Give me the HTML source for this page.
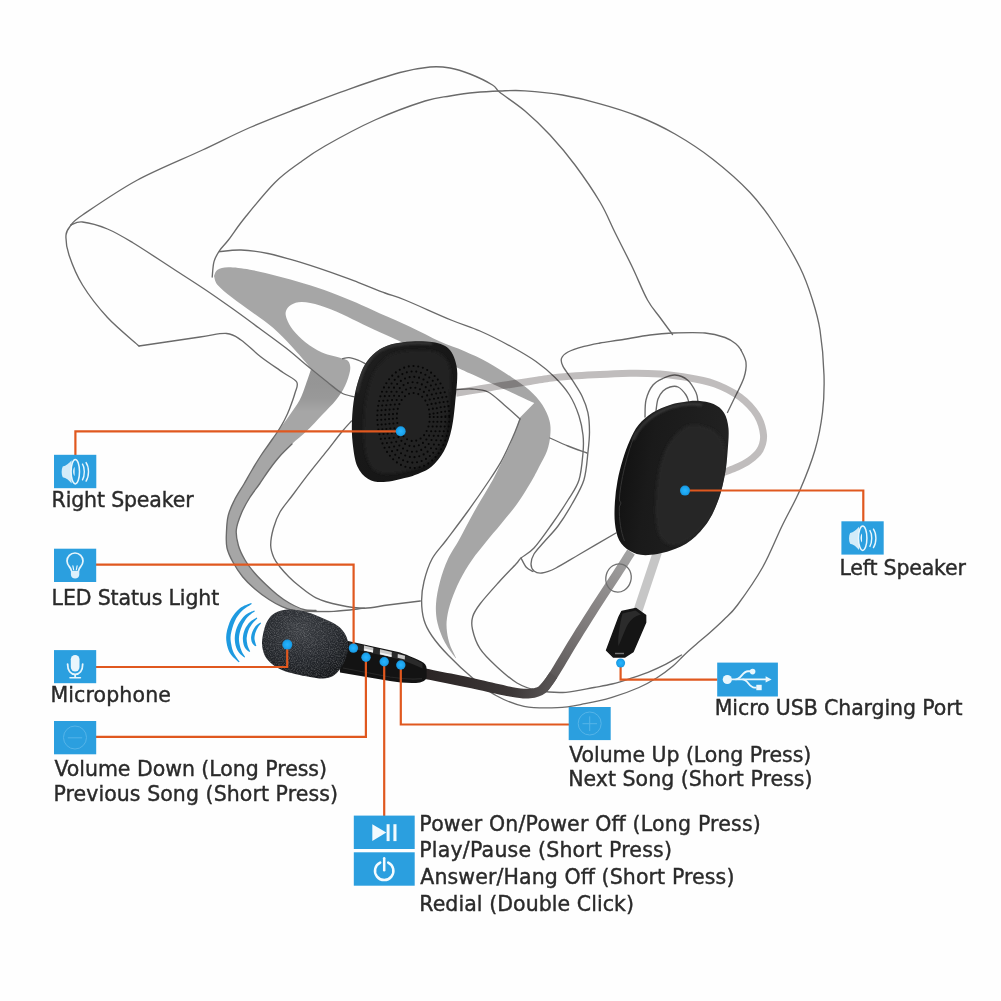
<!DOCTYPE html>
<html lang="en"><head><meta charset="utf-8"><title>Helmet Bluetooth Headset Diagram</title>
<style>html,body{margin:0;padding:0;background:#fff}body{width:1001px;height:1001px;overflow:hidden}svg{display:block}text{font-family:"DejaVu Sans","Liberation Sans",sans-serif;font-size:20.5px;fill:#2a2a2a;stroke:#2a2a2a;stroke-width:0.4px}</style>
</head><body>
<svg width="1001" height="1001" viewBox="0 0 1001 1001">
<defs>
<linearGradient id="boom" gradientUnits="userSpaceOnUse" x1="425" y1="675" x2="550" y2="690"><stop offset="0" stop-color="#2a2424"/><stop offset="0.7" stop-color="#3d3838"/><stop offset="1" stop-color="#575353"/></linearGradient>
<linearGradient id="boom2" gradientUnits="userSpaceOnUse" x1="548" y1="684" x2="632" y2="555"><stop offset="0" stop-color="#575353"/><stop offset="0.45" stop-color="#7f7b7b"/><stop offset="0.8" stop-color="#959393"/><stop offset="1" stop-color="#a2a2a2"/></linearGradient>
<radialGradient id="foam" cx="0.45" cy="0.3" r="0.75"><stop offset="0" stop-color="#3b3e43"/><stop offset="0.6" stop-color="#24272c"/><stop offset="1" stop-color="#15171a"/></radialGradient>
<linearGradient id="spkR" x1="0" y1="0" x2="1" y2="1"><stop offset="0" stop-color="#242424"/><stop offset="0.3" stop-color="#191919"/><stop offset="1" stop-color="#141414"/></linearGradient>
<linearGradient id="spkL" x1="0" y1="0.4" x2="1" y2="0.6"><stop offset="0" stop-color="#101010"/><stop offset="0.3" stop-color="#1a1a1a"/><stop offset="1" stop-color="#222"/></linearGradient>
<radialGradient id="dot" cx="0.5" cy="0.5" r="0.5"><stop offset="0" stop-color="#29b4ff"/><stop offset="0.7" stop-color="#1ba4ee"/><stop offset="1" stop-color="#1892da"/></radialGradient>
<filter id="grain" x="0" y="0" width="1" height="1"><feTurbulence type="fractalNoise" baseFrequency="0.85" numOctaves="2" seed="7" result="n"/><feColorMatrix in="n" type="matrix" values="0 0 0 0 1  0 0 0 0 1  0 0 0 0 1  0.5 0 0 0 -0.2" result="a"/><feComposite in="a" in2="SourceGraphic" operator="in"/></filter>
<linearGradient id="patch" gradientUnits="userSpaceOnUse" x1="0" y1="385" x2="0" y2="412"><stop offset="0" stop-color="#000" stop-opacity="0.10"/><stop offset="0.5" stop-color="#000" stop-opacity="0.08"/><stop offset="1" stop-color="#000" stop-opacity="0"/></linearGradient>
<filter id="soft" x="-0.2" y="-0.2" width="1.4" height="1.4"><feGaussianBlur stdDeviation="1.4"/></filter>
<filter id="soft2" x="-0.3" y="-0.3" width="1.6" height="1.6"><feGaussianBlur stdDeviation="0.9"/></filter>
</defs>
<rect width="1001" height="1001" fill="#fefefe"/>
<path id="shade" fill="#a6a6a6" d="M214 276C214.6 274.9 215.2 271.1 217.6 269.7C220 268.2 223 267.3 228.4 267.3C233.8 267.3 241.9 268.2 250 269.7C258.1 271.1 268 273.7 277 276C286 278.3 295 280.8 304 283.5C313 286.2 322.3 289.3 331 292.5C339.7 295.7 347.8 299 356 302.5C364.2 306 371 309.5 380 313.5C389 317.5 400 322 410 326.7C420 331.4 431 337.4 440 341.5C449 345.6 456 347.5 464 351C472 354.5 480 358 488 362.4C496 366.8 505.1 372.9 512 377.5C518.9 382.1 524.5 385.8 529.5 390.3C534.5 394.8 539 399.6 542.3 404.7C545.6 409.8 548.2 415.6 549.5 420.7C550.8 425.8 550.7 429.9 550.3 435C549.9 440.1 548.9 445.7 547 451C545.1 456.3 541.7 461.8 539 467C536.3 472.2 534.7 475.8 531 482C527.3 488.2 522 497 517 504C512 511 506.2 517.7 501 524C495.8 530.3 490.8 536 486 542C481.2 548 476.3 553.7 472 560C467.7 566.3 463.4 573.3 460 580C456.6 586.7 453.7 593.7 451.5 600C449.3 606.3 447.8 612.7 447 618C446.2 623.3 446.5 627.5 447 632C447.5 636.5 448.5 640.6 450 645C451.5 649.4 456.9 658.8 456 658.3C455.1 657.8 447.9 648.2 444.8 642.3C441.7 636.4 439 629.4 437.5 623C436 616.6 435.6 610.9 436 604C436.4 597.1 438 589 440 581.5C442 574 444.8 565.9 448 559C451.2 552.1 454.7 547.8 459 540C463.3 532.2 468.4 522 474 512C479.6 502 488.2 488 492.7 480C497.1 472 498 469.3 500.7 464C503.4 458.7 506.3 453.3 508.7 448C511.1 442.7 513.1 437.1 515 432C516.9 426.9 519.2 419.9 520 417.5L534.3 403C530.6 401.3 518.9 395.9 512 392.7C505.1 389.5 499.4 387.1 492.7 384C486 380.9 478.3 377.2 472 374.3C465.7 371.4 462 369.6 455 366.4C448 363.2 437.5 358.4 430 355C422.5 351.6 417.5 349.4 410 346C402.5 342.6 392.8 338.1 385 334.5C377.2 330.9 370.4 327.9 363.2 324.5C356 321.1 348.9 317.2 341.7 314C334.5 310.8 326.6 307.5 320 305.5C313.4 303.5 306.8 302.1 302 302C297.2 301.9 294 303.2 291.3 304.7C288.6 306.2 286.8 308.6 286 311C285.2 313.4 285.6 315.8 286.8 319C288 322.2 289.9 326.1 293 330C296.1 333.9 300.9 338.8 305.7 342.5C310.5 346.2 315.7 349.7 322 352.4C328.3 355.1 339 357 343.5 358.7C348 360.4 347.9 360.2 349 362.3C350.1 364.4 350.7 367.1 350 371C349.3 374.9 347.3 381.2 345 386C342.7 390.8 339.8 395.2 336 400C332.2 404.8 326.9 409.8 322 415C317.1 420.2 311.7 426.2 306.7 431C301.7 435.8 296.4 439.8 292 444C287.6 448.2 283.8 451.7 280 456C276.2 460.3 272.4 465.3 269 470C265.6 474.7 262.8 479.3 259.5 484C256.2 488.7 252.5 493.2 249.5 498C246.5 502.8 243.7 507.7 241.5 513C239.3 518.3 236.8 524.6 236.3 530C235.8 535.4 237 540.5 238.4 545.5C239.8 550.5 242.3 555.4 245 560C247.7 564.6 251.2 569 254.6 573C258 577 261.5 580.4 265.3 584C269.1 587.6 273.3 591.5 277.3 594.7C281.3 597.9 284.9 600.5 289.3 603C293.7 605.5 296.2 608.2 303.7 609.5C311.1 610.8 328.9 610.8 334 611L334 611.4C329.5 611.4 313.8 611.6 307 611.4C300.2 611.2 297.2 611.1 293 610.3C288.8 609.5 286 608.5 282 606.7C278 604.9 273.6 602.5 269 599.5C264.4 596.5 259 592.5 254.6 588.7C250.2 584.9 246.2 581.1 242.6 576.7C239 572.3 235.6 567.1 233 562.3C230.4 557.5 228.1 552.8 227 548C225.9 543.2 226.2 539 226.4 533.6C226.6 528.2 226.8 521.2 228.2 515.6C229.5 510 231.9 505.3 234.5 500C237.1 494.7 241.1 489 244 484C246.9 479 249.2 474.7 252 470C254.8 465.3 257.8 460.3 260.6 456C263.4 451.7 266.1 448.2 269 444C271.9 439.8 274.7 435.7 278 431C281.3 426.3 285.4 421.2 289 416C292.6 410.8 296.9 405.3 299.7 400C302.5 394.7 304.1 389.1 306 384C307.9 378.9 310.2 371.9 311 369.5C310.1 368.3 309 366.2 305.7 362.3C302.4 358.4 296.7 351.7 291.3 346C285.9 340.3 279.9 333.7 273.3 328C266.7 322.3 258.7 317.1 251.8 312C244.9 306.9 237.7 302 232 297.5C226.3 293 220.6 288.6 217.6 285C214.6 281.4 214.6 277.5 214 276Z"/>
<clipPath id="shadeclip"><path d="M214 276C214.6 274.9 215.2 271.1 217.6 269.7C220 268.2 223 267.3 228.4 267.3C233.8 267.3 241.9 268.2 250 269.7C258.1 271.1 268 273.7 277 276C286 278.3 295 280.8 304 283.5C313 286.2 322.3 289.3 331 292.5C339.7 295.7 347.8 299 356 302.5C364.2 306 371 309.5 380 313.5C389 317.5 400 322 410 326.7C420 331.4 431 337.4 440 341.5C449 345.6 456 347.5 464 351C472 354.5 480 358 488 362.4C496 366.8 505.1 372.9 512 377.5C518.9 382.1 524.5 385.8 529.5 390.3C534.5 394.8 539 399.6 542.3 404.7C545.6 409.8 548.2 415.6 549.5 420.7C550.8 425.8 550.7 429.9 550.3 435C549.9 440.1 548.9 445.7 547 451C545.1 456.3 541.7 461.8 539 467C536.3 472.2 534.7 475.8 531 482C527.3 488.2 522 497 517 504C512 511 506.2 517.7 501 524C495.8 530.3 490.8 536 486 542C481.2 548 476.3 553.7 472 560C467.7 566.3 463.4 573.3 460 580C456.6 586.7 453.7 593.7 451.5 600C449.3 606.3 447.8 612.7 447 618C446.2 623.3 446.5 627.5 447 632C447.5 636.5 448.5 640.6 450 645C451.5 649.4 456.9 658.8 456 658.3C455.1 657.8 447.9 648.2 444.8 642.3C441.7 636.4 439 629.4 437.5 623C436 616.6 435.6 610.9 436 604C436.4 597.1 438 589 440 581.5C442 574 444.8 565.9 448 559C451.2 552.1 454.7 547.8 459 540C463.3 532.2 468.4 522 474 512C479.6 502 488.2 488 492.7 480C497.1 472 498 469.3 500.7 464C503.4 458.7 506.3 453.3 508.7 448C511.1 442.7 513.1 437.1 515 432C516.9 426.9 519.2 419.9 520 417.5L534.3 403C530.6 401.3 518.9 395.9 512 392.7C505.1 389.5 499.4 387.1 492.7 384C486 380.9 478.3 377.2 472 374.3C465.7 371.4 462 369.6 455 366.4C448 363.2 437.5 358.4 430 355C422.5 351.6 417.5 349.4 410 346C402.5 342.6 392.8 338.1 385 334.5C377.2 330.9 370.4 327.9 363.2 324.5C356 321.1 348.9 317.2 341.7 314C334.5 310.8 326.6 307.5 320 305.5C313.4 303.5 306.8 302.1 302 302C297.2 301.9 294 303.2 291.3 304.7C288.6 306.2 286.8 308.6 286 311C285.2 313.4 285.6 315.8 286.8 319C288 322.2 289.9 326.1 293 330C296.1 333.9 300.9 338.8 305.7 342.5C310.5 346.2 315.7 349.7 322 352.4C328.3 355.1 339 357 343.5 358.7C348 360.4 347.9 360.2 349 362.3C350.1 364.4 350.7 367.1 350 371C349.3 374.9 347.3 381.2 345 386C342.7 390.8 339.8 395.2 336 400C332.2 404.8 326.9 409.8 322 415C317.1 420.2 311.7 426.2 306.7 431C301.7 435.8 296.4 439.8 292 444C287.6 448.2 283.8 451.7 280 456C276.2 460.3 272.4 465.3 269 470C265.6 474.7 262.8 479.3 259.5 484C256.2 488.7 252.5 493.2 249.5 498C246.5 502.8 243.7 507.7 241.5 513C239.3 518.3 236.8 524.6 236.3 530C235.8 535.4 237 540.5 238.4 545.5C239.8 550.5 242.3 555.4 245 560C247.7 564.6 251.2 569 254.6 573C258 577 261.5 580.4 265.3 584C269.1 587.6 273.3 591.5 277.3 594.7C281.3 597.9 284.9 600.5 289.3 603C293.7 605.5 296.2 608.2 303.7 609.5C311.1 610.8 328.9 610.8 334 611L334 611.4C329.5 611.4 313.8 611.6 307 611.4C300.2 611.2 297.2 611.1 293 610.3C288.8 609.5 286 608.5 282 606.7C278 604.9 273.6 602.5 269 599.5C264.4 596.5 259 592.5 254.6 588.7C250.2 584.9 246.2 581.1 242.6 576.7C239 572.3 235.6 567.1 233 562.3C230.4 557.5 228.1 552.8 227 548C225.9 543.2 226.2 539 226.4 533.6C226.6 528.2 226.8 521.2 228.2 515.6C229.5 510 231.9 505.3 234.5 500C237.1 494.7 241.1 489 244 484C246.9 479 249.2 474.7 252 470C254.8 465.3 257.8 460.3 260.6 456C263.4 451.7 266.1 448.2 269 444C271.9 439.8 274.7 435.7 278 431C281.3 426.3 285.4 421.2 289 416C292.6 410.8 296.9 405.3 299.7 400C302.5 394.7 304.1 389.1 306 384C307.9 378.9 310.2 371.9 311 369.5C310.1 368.3 309 366.2 305.7 362.3C302.4 358.4 296.7 351.7 291.3 346C285.9 340.3 279.9 333.7 273.3 328C266.7 322.3 258.7 317.1 251.8 312C244.9 306.9 237.7 302 232 297.5C226.3 293 220.6 288.6 217.6 285C214.6 281.4 214.6 277.5 214 276Z"/></clipPath>
<path clip-path="url(#shadeclip)" d="M306 366.3C320 377 330 385 340 392.3L352 380L340 412L290 412L304 380Z" fill="url(#patch)"/>
<g id="lines" fill="none" stroke="#6a6a6a" stroke-width="1.35" stroke-linecap="round" stroke-linejoin="round">
<path d="M71 225C72.9 223.3 71.4 222.5 82.5 215C93.6 207.5 117.5 190.8 137.5 180C157.5 169.2 183.8 158.8 202.5 150C221.2 141.2 233.8 134.6 250 127.5C266.2 120.4 283.3 114 300 107.5C316.7 101 333.3 94.6 350 88.8C366.7 82.9 386.7 76.1 400 72.5C413.3 68.9 421.7 67.8 430 67C438.3 66.2 443.3 66.8 450 68C456.7 69.2 462.9 71.2 470 74C477.1 76.8 487.5 81.9 492.5 85C497.5 88.1 494.6 88.2 500 92.5C505.4 96.8 516.7 103.9 525 111C533.3 118.1 541.7 126 550 135C558.3 144 566.7 153.8 575 165C583.3 176.2 593.3 190.8 600 202C606.7 213.2 609.6 221.6 615 232.5C620.4 243.4 627.1 256.2 632.5 267.5C637.9 278.8 642.9 291.7 647.5 300C652.1 308.3 655.8 311.8 660 317.5C664.2 323.2 670.4 331.7 672.5 334.5"/>
<path d="M71 225C70.2 226.7 66.3 230 66 235C65.7 240 66.2 246.7 69 255C71.8 263.3 76.1 274.6 82.5 285C88.9 295.4 98.1 307.3 107.5 317.5C116.9 327.7 133.8 341.2 139 346"/>
<path d="M139 346C149.2 344.5 185.4 339.1 200 337C214.6 334.9 219.8 333 226.6 333.5C233.4 334 235.3 336.1 241 340C246.7 343.9 254 351.6 261 357C268 362.4 277.1 368.3 283 372.5C288.9 376.7 294.7 378.6 296.7 382C298.7 385.4 296.2 388.5 295 393C293.8 397.5 291.2 404.5 289.5 409C287.8 413.5 286.4 416.3 284.5 420C282.6 423.7 280.6 427 278 431C275.4 435 271.9 439.8 269 444C266.1 448.2 263.4 451.7 260.6 456C257.8 460.3 254.8 465.3 252 470C249.2 474.7 246.9 479 244 484C241.1 489 237.1 494.7 234.5 500C231.9 505.3 229.5 510 228.2 515.6C226.8 521.2 226.6 528.2 226.4 533.6C226.2 539 225.9 543.2 227 548C228.1 552.8 230.4 557.5 233 562.3C235.6 567.1 239 572.3 242.6 576.7C246.2 581.1 250.2 584.9 254.6 588.7C259 592.5 264.4 596.5 269 599.5C273.6 602.5 278 604.9 282 606.7C286 608.5 288.8 609.5 293 610.3C297.2 611.1 300.2 611.2 307 611.4C313.8 611.6 324.4 611.9 334 611.4C343.6 610.9 359.4 608.7 364.5 608.2"/>
<path d="M316 610.5C313.9 610.3 308.1 610.8 303.7 609.5C299.2 608.2 293.7 605.5 289.3 603C284.9 600.5 281.3 597.9 277.3 594.7C273.3 591.5 269.1 587.6 265.3 584C261.5 580.4 258 577 254.6 573C251.2 569 247.7 564.6 245 560C242.3 555.4 239.8 550.5 238.4 545.5C237 540.5 235.8 535.4 236.3 530C236.8 524.6 239.3 518.3 241.5 513C243.7 507.7 246.5 502.8 249.5 498C252.5 493.2 256.2 488.7 259.5 484C262.8 479.3 265.6 474.7 269 470C272.4 465.3 276.2 460.3 280 456C283.8 451.7 290 446 292 444"/>
<path d="M71 225C72.9 224.5 76.4 221.3 82.5 222C88.6 222.7 99.2 225.6 107.5 229C115.8 232.4 121.2 235.7 132.5 242.5C143.8 249.3 162.9 262.2 175 270C187.1 277.8 195.5 283.1 205 289.5C214.5 295.9 223 301.9 232 308.3C241 314.7 250 321.4 259 328C268 334.6 277.9 341.7 286 348C294.1 354.3 300.6 360.3 307.5 366C314.4 371.7 321.6 377.5 327.3 382C333 386.5 337.2 390.5 341.7 393C346.2 395.5 352.2 396.2 354.3 396.8"/>
<path d="M212.2 277C212.5 274.4 212.8 266 214 261.6C215.2 257.2 217 254.4 219.4 250.8C221.8 247.2 224.1 245.6 228.4 240C232.7 234.4 237.2 227.1 245 217.5C252.8 207.9 265.8 191.7 275 182.5C284.2 173.3 291.7 168.6 300 162.5C308.3 156.4 312.5 153.1 325 146C337.5 138.9 358.3 127.5 375 120C391.7 112.5 412.5 105 425 101C437.5 97 441.7 97.4 450 96C458.3 94.6 466.7 93.3 475 92.5C483.3 91.7 491.7 91.3 500 91C508.3 90.7 514.6 90.1 525 90.8C535.4 91.4 550 92.8 562.5 95C575 97.2 587.5 100.2 600 103.8C612.5 107.2 625 111 637.5 116C650 121 662.5 126.8 675 134C687.5 141.2 700 149.2 712.5 159C725 168.8 739.6 181.5 750 192.5C760.4 203.5 766.7 212.5 775 225C783.3 237.5 793.8 255 800 267.5C806.2 280 809.2 289.6 812.5 300C815.8 310.4 818.1 317.5 820 330C821.9 342.5 823.6 361.2 824 375C824.4 388.8 824 400 822.5 412.5C821 425 818.8 437.1 815 450C811.2 462.9 805.4 477.5 800 490C794.6 502.5 788.8 512.1 782.5 525C776.2 537.9 770 554.2 762.5 567.5C755 580.8 743.9 596.3 737.5 605C731.1 613.7 728.6 614.9 724 619.5C719.4 624.1 714.7 628.3 710 632.5C705.3 636.7 700.3 640.7 696 644.5C691.7 648.3 687.8 651.6 684 655.2C680.2 658.8 677.5 662.2 673 666C668.5 669.8 662.7 674.1 657 677.7C651.3 681.3 646.5 684.2 639 687.5C631.5 690.8 621 694.7 612 697.4C603 700.1 594.1 702 585 703.7C575.9 705.4 567.7 707.3 557.5 707.7C547.3 708.1 534.2 708.3 524 706.3C513.8 704.3 504.7 700.3 496 695.5C487.3 690.7 480 684.2 472 677.5C464 670.8 454.7 661.9 448 655C441.3 648.1 436 641.8 432 636C428 630.2 425.7 625.9 424 620C422.3 614.1 421.6 606.9 421.6 600.5C421.6 594.1 422.3 588.4 424 581.5C425.7 574.6 428.3 565.9 432 559C435.7 552.1 440.4 548 446.4 540C452.4 532 460.8 521 468 511C475.2 501 484.1 488.1 489.5 480C494.9 471.9 497.5 467.9 500.7 462.3C503.9 456.7 506.3 451.4 508.7 446.3C511.1 441.2 513.1 436.6 515 432C516.9 427.4 519.2 421.2 520 419"/>
<path d="M520 419C517.3 416.6 509.3 409.2 504 404.7C498.7 400.2 493.3 394.6 488 392C482.7 389.4 477.2 389.4 472 389C466.8 388.6 459.3 389.4 456.8 389.5"/>
<path d="M219.4 251.7C223 251.4 232.9 249.7 241 250C249.1 250.3 259 251.7 268 253.5C277 255.3 284.5 257.6 295 260.7C305.5 263.8 320.5 268.8 331 272.4C341.5 276 349 278.9 358 282.3C367 285.7 377.2 290.1 385 293C392.8 295.9 394 295.5 405 300C416 304.5 438.5 314.8 451 320C463.5 325.2 469.8 326.5 480 331C490.2 335.5 502.7 341.9 512 347C521.3 352.1 528.8 356.4 536 361.5C543.2 366.6 549.4 371.9 555 377.5C560.6 383.1 565.5 388.6 569.5 395C573.5 401.4 576.8 409.3 579 416C581.2 422.7 582.3 428.9 583 435C583.7 441.1 583.7 445.2 583 452.7C582.3 460.2 581.5 472.1 579 480C576.5 487.9 572.5 492.7 568 500C563.5 507.3 557.7 516 552 524C546.3 532 539.2 542.3 534 548C528.8 553.7 524 555.3 521 558C518 560.7 519.7 560 516 564C512.3 568 505 575.3 499 582C493 588.7 484.4 598.2 480 604C475.6 609.8 473.9 612.5 472.7 616.7C471.4 621 471.3 624.2 472.5 629.5C473.7 634.8 476.1 642.6 480 648.7C483.9 654.8 489.8 660.3 496 666C502.2 671.7 510 678.9 517 683C524 687.1 529.8 689 538 690.5C546.2 692 556.7 692.8 566 692.3C575.3 691.8 586.3 688.9 594 687.5C601.7 686.1 606 685.5 612 684C618 682.5 624 680.6 630 678.6C636 676.6 642 674.7 648 672.3C654 669.9 660.4 667.1 666 664.2C671.6 661.3 678.9 656.5 681.5 655"/>
<path d="M741 350C740.2 349 738.7 346.1 736 344C733.3 341.9 730.2 339.3 725 337.5C719.8 335.7 713.8 333.8 705 333C696.2 332.2 681.7 332.7 672.5 333C663.3 333.3 658.8 333.8 650 335C641.2 336.2 628.3 338.7 620 340C611.7 341.3 606 341.9 600 343C594 344.1 589.3 344.9 584 346.4C578.7 347.9 571.8 350 568 352C564.2 354 562.3 356 561.5 358.4C560.7 360.8 561.1 362.7 563 366.4C564.9 370.1 569.5 375.6 572.7 380.7C575.9 385.8 579.8 391.4 582.3 396.7C584.8 402 586.7 406.8 587.9 412.7C589.1 418.6 589.5 425.3 589.5 432C589.5 438.7 588.8 444.7 587.9 452.7C587 460.7 586.5 471.4 583.9 480C581.2 488.6 576.3 496.3 572 504C567.7 511.7 562.7 519.7 558 526C553.3 532.3 548 537.3 544 542C540 546.7 536.2 550.3 534 554C531.8 557.7 531 561.2 531 564C531 566.8 532.2 569.5 534 571C535.8 572.5 538.3 573.5 542 573C545.7 572.5 549.7 571.2 556 568C562.3 564.8 570 559.8 580 554C590 548.2 610 536.5 616 533"/>
<path d="M741 350C741.8 352.1 745.5 357.9 746 362.5C746.5 367.1 745.7 372.1 744 377.5C742.3 382.9 738.8 389.2 736 395C733.2 400.8 728.9 409.6 727.5 412.5"/>
<path d="M521 558C521.9 559.5 524.3 565 526.3 567.2C528.3 569.5 531.9 570.8 533 571.5"/>
<path d="M550 438C553 439.3 561.8 443.5 568 446C574.2 448.5 583.8 451.8 587 453"/>
<path d="M351.5 421C349.9 422.8 345.9 426.9 341.7 432C337.5 437.1 331.7 444.9 326.3 451.7C320.9 458.5 315.1 465.5 309.5 472.7C303.9 479.9 297.6 488.4 292.7 495C287.8 501.6 283.2 506.5 280 512C276.8 517.5 275.1 522.4 273.5 528C271.9 533.6 270.6 540.5 270.7 545.5C270.8 550.5 272.4 554.4 274 558C275.6 561.6 277.5 563.8 280 567C282.5 570.2 286 574 289 577C292 580 293.5 581.5 298 585C302.5 588.5 309.1 594.5 316 597.8C322.9 601.1 331.2 603.3 339.3 605C347.4 606.7 356.4 608.2 364.5 608.2C372.6 608.2 378.7 606.2 388 605C397.3 603.8 414.9 601.7 420.3 601"/>
<path d="M342.6 358.7C343.7 358.5 346.4 357.4 349 357.6C351.6 357.9 355.3 359.2 358 360.2C360.7 361.2 364.2 363.2 365.4 363.8"/>
<path d="M645 417C645.2 414.2 644.7 405.3 646 400C647.3 394.7 650 388.7 653 385C656 381.3 660.3 379.7 664 378C667.7 376.3 671.1 374.7 675 375C678.9 375.3 684 377.1 687.5 380C691 382.9 694.2 388.8 696 392.5C697.8 396.2 697.7 400.8 698 402.5"/>
<path d="M656 411C656.3 409 656.8 402.3 658 399C659.2 395.7 661 393 663 391C665 389 667.5 387.7 670 387C672.5 386.3 675.3 385.7 678 387C680.7 388.3 684.2 392.4 686 395C687.8 397.6 688.5 401.2 689 402.5"/>
</g>
<path d="M456.6 396.7C462.3 395.7 478.3 393.1 490.6 391.2C502.9 389.2 520.2 386.5 530.6 384.9C540.9 383.3 544.8 382.5 552.4 381.6C560 380.6 568.3 379.9 576.3 379.3C584.2 378.7 591.2 378.4 600.2 378C609.1 377.6 620.1 376.8 630 376.7C640 376.6 649.8 376.7 659.7 377.5C669.6 378.3 680.4 379.8 689.4 381.4C698.4 383.1 705.7 384.2 713.8 387.3C721.8 390.3 731.2 394.9 737.9 399.8C744.6 404.7 750.3 410.9 754 416.8C757.7 422.8 759.5 430 760 435.3C760.5 440.5 758.9 444.7 756.9 448.3C754.9 452 751.4 454.6 747.9 457.2C744.4 459.8 740.6 461.7 736 463.8C731.5 465.9 723.3 468.8 720.7 469.7L723.3 476.3C725.9 475.2 734.2 472.4 739 470.2C743.8 467.9 748.1 465.9 752.1 462.8C756.1 459.7 760.6 456.3 763.1 451.7C765.6 447 767.5 441.1 767 434.7C766.5 428.3 764.1 419.9 760 413.2C755.8 406.4 749.4 399.6 742.1 394.2C734.8 388.8 724.8 384 716.2 380.7C707.7 377.5 700 376.3 690.6 374.6C681.3 372.9 670.4 371.3 660.3 370.5C650.2 369.7 640 369.6 630 369.7C619.9 369.8 608.9 370.6 599.8 371C590.8 371.4 583.8 371.7 575.7 372.3C567.7 372.8 559.3 373.5 551.6 374.4C543.9 375.3 539.8 376.1 529.4 377.7C519.1 379.3 501.8 381.9 489.4 383.8C477.1 385.8 461.1 388.4 455.4 389.3Z" fill="#1a1010" fill-opacity="0.27"/>
<path d="M546.8 691.9C548.6 689.5 552.2 685.6 557.4 677.5C562.6 669.5 570.5 655.4 577.9 643.4C585.3 631.4 594.6 616.6 601.8 605.4C608.9 594.3 615.3 584.9 620.8 576.4C626.3 567.9 632.5 558.1 634.8 554.4L627.2 549.6C624.9 553.2 618.7 563.1 613.2 571.6C607.7 580.1 601.4 589.4 594.2 600.6C587 611.7 577.5 626.6 570.1 638.6C562.7 650.6 554.7 664.5 549.6 672.5C544.4 680.4 540.9 683.9 539.2 686.1Z" fill="url(#boom2)"/>
<path d="M423 678.6C427.3 679.5 439.6 682 448.9 683.8C458.3 685.7 468.6 687.7 479 689.9C489.3 692.1 502.6 695.4 511.2 696.8C519.8 698.2 524.7 699 530.5 698.3C536.3 697.6 541.5 696.1 545.9 692.7C550.4 689.3 555.3 680.3 557.2 677.8L549.8 672.2C548.2 674.4 543.4 682.5 540.1 685.3C536.7 688 534.1 688.4 529.5 688.7C525 689 520.9 688.6 512.8 687.2C504.7 685.7 491.3 682.4 481 680.1C470.8 677.8 460.4 675.5 451.1 673.6C441.7 671.6 429.4 669.2 425 668.4Z" fill="url(#boom)"/>
<ellipse cx="618.5" cy="578" rx="12.6" ry="14.3" transform="rotate(16 618.5 578)" fill="none" stroke="#707070" stroke-width="1.3"/>
<path d="M657.5 552L637.5 612" fill="none" stroke="#c6c6c6" stroke-width="9"/>
<clipPath id="clipR"><path d="M391.5 344.3C397.5 342.6 405.3 341.9 412 341.5C418.7 341.1 426.5 341.4 431.7 342C436.9 342.6 439.9 343.6 443 345C446.1 346.4 448.3 348 450.3 350.5C452.3 353 453.8 356.1 455 360C456.2 363.9 457.2 367.5 457.3 373.7C457.4 379.9 456.6 387.9 455.7 397C454.8 406.1 453.8 419 451.8 428C449.9 437 447.4 444.6 444 451C440.6 457.4 435.7 462.9 431.7 466.6C427.7 470.3 424.1 471.2 420 473C415.9 474.8 413.1 476 407 477.5C400.9 479 390.2 481.8 383.7 482C377.2 482.2 372.6 481.6 368.2 479C363.8 476.4 360 472.5 357.4 466.6C354.8 460.7 353.6 451.2 352.7 443.4C351.8 435.6 351.7 427.7 352 420C352.3 412.3 353.1 403.9 354.3 397C355.5 390.1 357.2 383.8 359 378.4C360.8 373 362.2 368.8 365 364.4C367.8 360 371.6 355.4 376 352C380.4 348.6 385.5 346.1 391.5 344.3Z"/></clipPath>
<path d="M391.5 344.3C397.5 342.6 405.3 341.9 412 341.5C418.7 341.1 426.5 341.4 431.7 342C436.9 342.6 439.9 343.6 443 345C446.1 346.4 448.3 348 450.3 350.5C452.3 353 453.8 356.1 455 360C456.2 363.9 457.2 367.5 457.3 373.7C457.4 379.9 456.6 387.9 455.7 397C454.8 406.1 453.8 419 451.8 428C449.9 437 447.4 444.6 444 451C440.6 457.4 435.7 462.9 431.7 466.6C427.7 470.3 424.1 471.2 420 473C415.9 474.8 413.1 476 407 477.5C400.9 479 390.2 481.8 383.7 482C377.2 482.2 372.6 481.6 368.2 479C363.8 476.4 360 472.5 357.4 466.6C354.8 460.7 353.6 451.2 352.7 443.4C351.8 435.6 351.7 427.7 352 420C352.3 412.3 353.1 403.9 354.3 397C355.5 390.1 357.2 383.8 359 378.4C360.8 373 362.2 368.8 365 364.4C367.8 360 371.6 355.4 376 352C380.4 348.6 385.5 346.1 391.5 344.3Z" fill="url(#spkR)"/>
<g clip-path="url(#clipR)"><path d="M400 352C407.2 350.6 420.7 349.7 428 350.5C435.3 351.3 440.2 353.4 444 357C447.8 360.6 449.6 365.2 450.5 372C451.4 378.8 450.2 388.7 449.5 398C448.8 407.3 447.8 419.3 446 428C444.2 436.7 441.8 444 438.5 450C435.2 456 431.8 460.4 426 464C420.2 467.6 411 469.9 404 471.5C397 473.1 389.4 474.2 384 473.5C378.6 472.8 374.7 471.2 371.5 467C368.3 462.8 366.2 455.8 365 448C363.8 440.2 363.7 428.8 364 420C364.3 411.2 365.3 402.8 367 395C368.7 387.2 371 379 374 373C377 367 380.7 362.5 385 359C389.3 355.5 392.8 353.4 400 352Z" fill="#212121" filter="url(#soft)"/>
<path d="M357 392C360 374 368 358 380 350C392 344 412 342 432 343.5" fill="none" stroke="#383838" stroke-width="2.6" filter="url(#soft2)"/></g>
<g fill="none" stroke="#060606" stroke-width="2.1" stroke-linecap="round">
<ellipse cx="413.3" cy="417" rx="16.5" ry="24" stroke-dasharray="0 4.8"/>
<ellipse cx="413.3" cy="417" rx="20.4" ry="29.4" stroke-dasharray="0 4.8"/>
<ellipse cx="413.3" cy="417" rx="24.3" ry="34.8" stroke-dasharray="0 4.8"/>
<ellipse cx="413.3" cy="417" rx="28.2" ry="40.2" stroke-dasharray="0 4.8"/>
<ellipse cx="413.3" cy="417" rx="32.1" ry="45.6" stroke-dasharray="0 4.8"/>
<ellipse cx="413.3" cy="417" rx="36" ry="51" stroke-dasharray="0 4.8"/>
</g>
<clipPath id="clipL"><path d="M697.9 400.8C702.8 401.2 709.2 402 713.6 404C718 406 721.5 408.6 724 412.7C726.5 416.8 727.9 422.1 728.5 428.5C729.1 434.9 728.2 443.6 727.6 451.2C727 458.8 726.5 466.1 725 474C723.5 481.9 721.7 490.6 718.9 498.4C716.1 506.2 713 514 708.4 521C703.8 528 697.4 535.3 691 540.3C684.6 545.3 677.6 548.3 670 550.8C662.4 553.3 652.2 555.2 645.5 555.2C638.8 555.2 634.1 553.3 629.7 550.8C625.3 548.3 621.7 544.9 619.2 540.3C616.7 535.6 615.6 529.3 614.9 522.9C614.2 516.5 614.5 508.9 614.9 501.9C615.3 494.9 616.2 487.9 617.5 480.9C618.8 473.9 620.7 466.7 622.7 460C624.7 453.3 627.1 446.5 629.7 440.7C632.3 434.9 634.7 429.7 638.5 425C642.3 420.3 647.1 416.1 652.4 412.7C657.6 409.3 664.7 406.7 670 404.9C675.3 403.1 679.4 402.6 684 401.9C688.6 401.2 693 400.4 697.9 400.8Z"/></clipPath>
<path d="M697.9 400.8C702.8 401.2 709.2 402 713.6 404C718 406 721.5 408.6 724 412.7C726.5 416.8 727.9 422.1 728.5 428.5C729.1 434.9 728.2 443.6 727.6 451.2C727 458.8 726.5 466.1 725 474C723.5 481.9 721.7 490.6 718.9 498.4C716.1 506.2 713 514 708.4 521C703.8 528 697.4 535.3 691 540.3C684.6 545.3 677.6 548.3 670 550.8C662.4 553.3 652.2 555.2 645.5 555.2C638.8 555.2 634.1 553.3 629.7 550.8C625.3 548.3 621.7 544.9 619.2 540.3C616.7 535.6 615.6 529.3 614.9 522.9C614.2 516.5 614.5 508.9 614.9 501.9C615.3 494.9 616.2 487.9 617.5 480.9C618.8 473.9 620.7 466.7 622.7 460C624.7 453.3 627.1 446.5 629.7 440.7C632.3 434.9 634.7 429.7 638.5 425C642.3 420.3 647.1 416.1 652.4 412.7C657.6 409.3 664.7 406.7 670 404.9C675.3 403.1 679.4 402.6 684 401.9C688.6 401.2 693 400.4 697.9 400.8Z" fill="url(#spkL)"/>
<g clip-path="url(#clipL)"><path d="M691 425C697.1 424.4 707.9 426.4 713.6 430.2C719.3 434 723.1 440.4 725 447.7C726.9 455 726 465.6 725 474C724 482.4 721.7 490.6 718.9 498.4C716.1 506.2 713 514.3 708.4 521C703.8 527.7 696.8 534.5 691 538.6C685.2 542.7 678.4 545.6 673.4 545.6C668.4 545.6 664.1 542.7 661.2 538.6C658.3 534.5 656.9 528.3 656 521C655.1 513.7 655.4 503.7 656 495C656.6 486.3 657.7 476.6 659.4 468.7C661.1 460.8 663.5 453.5 666.4 447.7C669.3 441.9 672.9 437.5 677 433.7C681.1 429.9 684.9 425.6 691 425Z" fill="#272727" filter="url(#soft)"/>
<path d="M633 440C640 424 655 412 672 407C682 404 692 403 702 405" fill="none" stroke="#3a3a3a" stroke-width="2.6" filter="url(#soft2)"/>
<path d="M636 432C627 452 620 484 619.3 500L621 503L619.3 507C619 520 621 532 624.5 541" fill="none" stroke="#343434" stroke-width="1"/></g>
<path d="M621.8 611.5L636 608.5L645.6 615.4L645.6 622.4L633 651.7L624.6 657L613.4 657L606.6 650.3L619 617Z" fill="#151515" stroke="#151515" stroke-width="1.5" stroke-linejoin="round"/>
<path d="M622.5 613.5L635.5 610.5L641 614.5C634 616 629 621 626 628L618.5 646C617.5 640 619 628 622.5 613.5Z" fill="#2b2b2b"/>
<path d="M615 653.5L624 653.5" stroke="#777" stroke-width="1.4" fill="none"/>
<path d="M338 638.5L348 641L397 651.8C405 653.8 415 658.3 421 661.3C425 663.3 426.6 665.6 426.6 668.6L426.6 676.5C426.6 679.5 424 681.6 420 682.4C412 683.6 400 682.6 390 681L340 672.5Z" fill="#131313"/>
<path d="M349 642.2L397 652.8C405 654.8 415 659.5 422.5 663.5L422.5 668.5C414 664.5 404 660.6 396 658.6L349 648Z" fill="#2a2a2a"/>
<path d="M343 668L390 677C400 678.6 412 679.6 422 678.6" fill="none" stroke="#272727" stroke-width="1.2"/>
<g fill="#c9c9c9"><path d="M364 645.6L373.4 647.8L373 652.6L363.8 650.4Z"/><path d="M380 649.3L391.8 652L391.5 657L379.8 654.3Z"/><path d="M397.8 654L405 655.8L404.8 659.4L397.6 657.8Z"/></g>
<g fill="#f4f4f4"><path d="M364.5 648.6L373 650.6L373 652.6L364 650.4Z"/><path d="M380.4 652.4L391.4 655L391.5 657L380 654.3Z"/></g>
<path d="M275 613C278.2 611.2 282.3 609.8 287 609.5C291.7 609.2 297.5 609.8 303 611C308.5 612.2 314.7 614.8 320 617C325.3 619.2 331.2 621.7 335 624C338.8 626.3 340.9 628.3 343 631C345.1 633.7 346.7 636.8 347.5 640C348.3 643.2 348.4 646.7 348 650C347.6 653.3 346.3 656.8 345 660C343.7 663.2 342 666.3 340 669C338 671.7 335.8 674.4 333 676C330.2 677.6 326.8 678.3 323 678.5C319.2 678.7 314.7 677.8 310 677C305.3 676.2 299.7 675.2 295 674C290.3 672.8 285.8 671.7 282 670C278.2 668.3 274.8 666.3 272 664C269.2 661.7 266.7 659.3 265 656C263.3 652.7 262.2 648.3 262 644C261.8 639.7 263 634 264 630C265 626 266.2 622.8 268 620C269.8 617.2 271.8 614.8 275 613Z" fill="url(#foam)"/>
<path d="M275 613C278.2 611.2 282.3 609.8 287 609.5C291.7 609.2 297.5 609.8 303 611C308.5 612.2 314.7 614.8 320 617C325.3 619.2 331.2 621.7 335 624C338.8 626.3 340.9 628.3 343 631C345.1 633.7 346.7 636.8 347.5 640C348.3 643.2 348.4 646.7 348 650C347.6 653.3 346.3 656.8 345 660C343.7 663.2 342 666.3 340 669C338 671.7 335.8 674.4 333 676C330.2 677.6 326.8 678.3 323 678.5C319.2 678.7 314.7 677.8 310 677C305.3 676.2 299.7 675.2 295 674C290.3 672.8 285.8 671.7 282 670C278.2 668.3 274.8 666.3 272 664C269.2 661.7 266.7 659.3 265 656C263.3 652.7 262.2 648.3 262 644C261.8 639.7 263 634 264 630C265 626 266.2 622.8 268 620C269.8 617.2 271.8 614.8 275 613Z" fill="#fff" filter="url(#grain)"/>
<g fill="#1e9ae0">
<path d="M251.3 603.1C249.4 603.9 243.3 605.7 239.9 608.3C236.6 611 233.4 614.8 231.1 619.1C228.9 623.3 227.1 629.6 226.4 634C225.8 638.4 226.4 641.9 227.1 645.4C227.9 648.9 229.2 652 231.1 654.8C233.1 657.6 237.5 661.1 238.8 662.3L239.6 661.7C238.6 660.3 235.3 656 233.9 653.2C232.5 650.3 231.8 647.7 231.3 644.6C230.7 641.5 230.2 638.6 230.8 634.6C231.4 630.7 233 624.9 234.9 620.9C236.7 616.9 239.2 613.5 242.1 610.7C244.9 607.8 250.1 605.1 251.7 603.9Z"/>
<path d="M254.3 610.4C252.8 611.1 248.1 612.6 245.4 614.9C242.7 617.3 239.9 621.2 238.2 624.6C236.4 628.1 235.3 632.3 234.9 635.7C234.5 639.2 235 642.6 235.6 645.4C236.3 648.3 237.6 650.8 239.1 652.8C240.6 654.8 243.5 656.7 244.4 657.5L245.2 656.9C244.6 655.9 242.6 653.3 241.7 651.2C240.8 649.2 240 647.1 239.6 644.6C239.1 642.1 238.7 639.3 239.1 636.3C239.5 633.2 240.4 629.6 241.8 626.4C243.2 623.2 245.4 619.6 247.6 617.1C249.8 614.5 253.7 612.2 254.9 611.2Z"/>
<path d="M256.7 617.6C255.6 618.4 251.9 620.2 250 622.1C248 624 246.1 626.8 244.9 629.3C243.8 631.8 243.1 634.8 242.9 637.3C242.7 639.9 243.1 642.4 243.6 644.4C244.2 646.4 245.1 647.9 246 649.2C247 650.4 248.9 651.5 249.4 651.9L250.2 651.3C249.9 650.7 248.9 649.1 248.4 647.8C247.9 646.5 247.4 645.3 247.2 643.6C246.9 641.9 246.5 639.8 246.7 637.7C246.9 635.5 247.4 633 248.3 630.7C249.1 628.4 250.5 626 252 623.9C253.5 621.8 256.4 619.3 257.3 618.4Z"/>
<path d="M260.5 622.4C259.7 623 257.3 624.3 256 625.8C254.7 627.3 253.3 629.5 252.5 631.4C251.7 633.4 251.2 635.7 251.1 637.3C251 639 251.3 640.2 251.6 641.4C252 642.6 252.7 643.6 253.3 644.4C254 645.2 255.2 646 255.6 646.3L256.4 645.7C256.2 645.3 255.7 644.1 255.5 643.2C255.2 642.4 254.9 641.5 254.8 640.6C254.6 639.7 254.4 639 254.5 637.7C254.6 636.3 254.9 634.3 255.5 632.6C256.1 630.8 257 628.8 258 627.2C258.9 625.7 260.6 623.8 261.1 623.2Z"/>
</g>
<g id="leaders" fill="none" stroke="#e0581f" stroke-width="2.2" stroke-linejoin="miter">
<path d="M75.4 455V431.3H400"/>
<path d="M96 564.6H353.6V648"/>
<path d="M96 667H287.2V645"/>
<path d="M96 736.8H365.9V657.5"/>
<path d="M384.2 661.8V816"/>
<path d="M400.8 665V724.5H569"/>
<path d="M620.6 663V679.6H717.5"/>
<path d="M685 490.5H863.3V522"/>
</g>
<g id="dots" fill="url(#dot)">
<circle cx="400.7" cy="431.2" r="5"/>
<circle cx="685" cy="490.6" r="5"/>
<circle cx="287.3" cy="644.6" r="5"/>
<circle cx="353.4" cy="648.1" r="4.7"/>
<circle cx="366" cy="657.3" r="4.7"/>
<circle cx="384.2" cy="661.8" r="4.7"/>
<circle cx="400.8" cy="665" r="4.7"/>
<circle cx="620.6" cy="663" r="4.5"/>
</g>
<g id="icons">
<rect x="54" y="454.8" width="42.3" height="33.4" fill="#2b9fdf"/>
<g transform="translate(54 454.8)" fill="none" stroke="#eaf7fd" stroke-width="1.1">
<path d="M8.7 11.6C12 11.2 15 8.4 17.6 5.4V28.6C15 25.6 12 22.8 8.7 22.4C7.3 19.5 7.3 14.5 8.7 11.6Z" fill="#eaf7fd" fill-opacity="0.88" stroke="none"/>
<ellipse cx="21.3" cy="16.9" rx="4.2" ry="12.2" fill="#2b9fdf" stroke-width="1.5"/>
<path d="M20.6 12.2C18.6 14 18.6 19.4 20.6 21.2Z" fill="#eaf7fd" stroke="none"/>
<path d="M28.3 8.8C31 12.8 31 21.3 28.3 25.5" stroke-width="1.4"/>
<path d="M31.8 7.3C35.4 12.3 35.4 21.8 31.8 26.8" stroke-width="1.4"/>
</g>
<rect x="841.4" y="521.3" width="42.3" height="33.3" fill="#2b9fdf"/>
<g transform="translate(841.4 521.3)" fill="none" stroke="#eaf7fd" stroke-width="1.1">
<path d="M8.7 11.6C12 11.2 15 8.4 17.6 5.4V28.6C15 25.6 12 22.8 8.7 22.4C7.3 19.5 7.3 14.5 8.7 11.6Z" fill="#eaf7fd" fill-opacity="0.88" stroke="none"/>
<ellipse cx="21.3" cy="16.9" rx="4.2" ry="12.2" fill="#2b9fdf" stroke-width="1.5"/>
<path d="M20.6 12.2C18.6 14 18.6 19.4 20.6 21.2Z" fill="#eaf7fd" stroke="none"/>
<path d="M28.3 8.8C31 12.8 31 21.3 28.3 25.5" stroke-width="1.4"/>
<path d="M31.8 7.3C35.4 12.3 35.4 21.8 31.8 26.8" stroke-width="1.4"/>
</g>
<rect x="54" y="548.7" width="42.2" height="33.3" fill="#2b9fdf"/>
<g transform="translate(54 548.7)" fill="none" stroke="#e6f5fc" stroke-width="1.7" stroke-linecap="round" stroke-linejoin="round"><path d="M17.3 21.6C17 18.6 13 17 13 12.3A8 8 0 0 1 29 12.3C29 17 25 18.6 24.7 21.6"/><path d="M18.9 17.2L19.6 21M23.1 17.2L22.4 21" stroke-width="1.2"/><path d="M16.9 22H25.3V26C25.3 28.3 23.4 29.8 21.1 29.8C18.8 29.8 16.9 28.3 16.9 26Z" fill="#dcf1fb" stroke="none"/></g>
<rect x="54" y="650.1" width="42.2" height="33.1" fill="#2b9fdf"/>
<g transform="translate(54 650.1)" fill="none" stroke="#e6f5fc" stroke-width="1.8" stroke-linecap="round"><rect x="16.8" y="4.8" width="8.7" height="16.5" rx="4.35" fill="#e9f6fc" stroke="none"/><path d="M13.6 14C13.6 20.5 16.8 24.2 21.15 24.2C25.5 24.2 28.7 20.5 28.7 14"/><path d="M21.15 24.4V27.2" stroke-linecap="butt"/><path d="M16 27.7H26.4" stroke-width="1.6"/></g>
<rect x="54" y="721" width="42.2" height="33.3" fill="#2b9fdf"/>
<g fill="none" stroke="#55b4e8" stroke-width="1"><circle cx="75" cy="737.5" r="11.5"/><path d="M67.8 737.8H82.2"/></g>
<rect x="568.7" y="707" width="42" height="33.1" fill="#2b9fdf"/>
<g fill="none" stroke="#55b4e8" stroke-width="1"><circle cx="589.7" cy="723.5" r="11.5"/><path d="M582.5 723.7H597M589.7 716.4V731"/></g>
<rect x="717.2" y="662.6" width="60.7" height="33.9" fill="#2b9fdf"/>
<g fill="none" stroke="#eaf7fd" stroke-width="1.9" stroke-linejoin="round"><path d="M730 679.4H767"/><path d="M735.5 679.4C741 679.4 742.5 671.3 748 671.3H750"/><path d="M742.5 679.4C748 679.4 749 687.6 754.5 687.6H756.5"/><circle cx="727.3" cy="679.5" r="4.6" fill="#eaf7fd" stroke="none"/><circle cx="752.6" cy="671.6" r="2.8" fill="#eaf7fd" stroke="none"/><rect x="756.3" y="684.8" width="5.4" height="5.4" fill="#eaf7fd" stroke="none"/><path d="M765.6 676.2L771.6 679.4L765.6 682.6Z" fill="#eaf7fd" stroke="none"/></g>
<rect x="353.8" y="815.6" width="60.9" height="33.4" fill="#2b9fdf"/>
<g fill="#f2fafe"><path d="M372.3 824.2L386.3 832.6L372.3 841.1Z"/><rect x="386.6" y="824.2" width="3" height="16.9"/><rect x="393.4" y="824.2" width="3.1" height="16.9"/></g>
<rect x="353.8" y="852.3" width="60.9" height="33.4" fill="#2b9fdf"/>
<g fill="none" stroke="#f4fbfe" stroke-width="2.5" stroke-linecap="round"><path d="M380.2 862.6A9.2 9.2 0 1 0 388.2 862.6"/><path d="M384.2 858.2V870.2"/></g>
</g>
<g id="labels" style="opacity:0.999">
<text x="51.6" y="507" textLength="142" lengthAdjust="spacing">Right Speaker</text>
<text x="51.6" y="604.6" textLength="167.6" lengthAdjust="spacing">LED Status Light</text>
<text x="50.4" y="702.3" textLength="120.5" lengthAdjust="spacing">Microphone</text>
<text x="54.4" y="776" textLength="272.6" lengthAdjust="spacing">Volume Down (Long Press)</text>
<text x="53.4" y="800.6" textLength="284.5" lengthAdjust="spacing">Previous Song (Short Press)</text>
<text x="839.4" y="575.4" textLength="126.5" lengthAdjust="spacing">Left Speaker</text>
<text x="714.8" y="714.9" textLength="247.8" lengthAdjust="spacing">Micro USB Charging Port</text>
<text x="569.2" y="761.8" textLength="242.1" lengthAdjust="spacing">Volume Up (Long Press)</text>
<text x="568.2" y="786.2" textLength="244.3" lengthAdjust="spacing">Next Song (Short Press)</text>
<text x="419.3" y="831" textLength="341.5" lengthAdjust="spacing">Power On/Power Off (Long Press)</text>
<text x="419.3" y="857.4" textLength="252.6" lengthAdjust="spacing">Play/Pause (Short Press)</text>
<text x="420.3" y="884" textLength="314.1" lengthAdjust="spacing">Answer/Hang Off (Short Press)</text>
<text x="419.3" y="910.5" textLength="214.7" lengthAdjust="spacing">Redial (Double Click)</text>
</g>
</svg>
</body></html>
